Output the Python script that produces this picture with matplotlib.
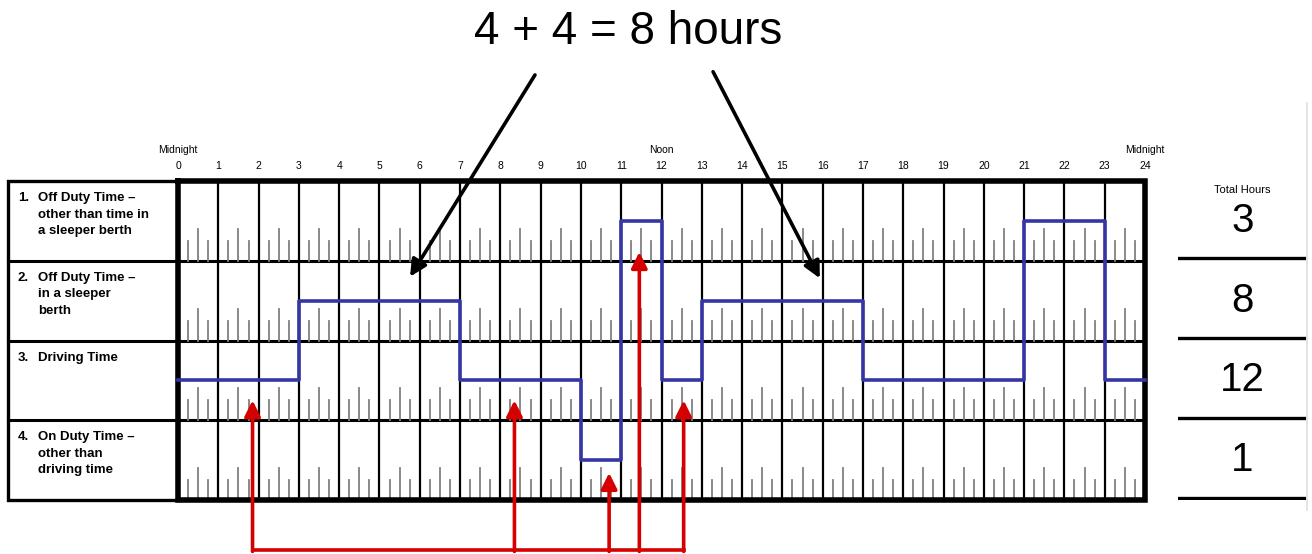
import matplotlib.pyplot as plt

plt.rcParams['font.family'] = ['Liberation Sans', 'DejaVu Sans']

# duty status rows (0 = top row)
row_labels = [
    ("1.", "Off Duty Time \u2013\nother than time in\na sleeper berth"),
    ("2.", "Off Duty Time \u2013\nin a sleeper\nberth"),
    ("3.", "Driving Time"),
    ("4.", "On Duty Time \u2013\nother than\ndriving time"),
]
total_hours = [3, 8, 12, 1]

# status changes: hour at which each segment starts, and its row
change_hours = [0, 3, 7, 10, 11, 12, 13, 17, 21, 23, 24]
change_rows = [2, 1, 2, 3, 0, 2, 1, 2, 0, 2, 2]

# red arrows: hour and row level of the arrow tip
red_hours = [1.85, 8.35, 10.7, 11.45, 12.55]
red_tips = [2.75, 2.75, 3.66, 0.89, 2.75]

W, H = 1312, 554
fig = plt.figure(figsize=(W / 100, H / 100), dpi=100)


def box(x0, y0, x1, y1):
    return [x0 / W, 1 - y1 / H, (x1 - x0) / W, (y1 - y0) / H]


# ---- grid ----
ax = fig.add_axes(box(178, 181, 1145, 500))
ax.set_xlim(0, 24)
ax.set_ylim(4, 0)
ax.axis('off')

for h in range(1, 24):
    ax.plot([h, h], [0, 4], color='black', lw=1.6)
for r in range(1, 4):
    ax.plot([0, 24], [r, r], color='black', lw=2.2)
for r in range(4):
    for h in range(24):
        for q, ln in [(0.25, 0.25), (0.5, 0.4), (0.75, 0.25)]:
            ax.plot([h + q, h + q], [r + 1, r + 1 - ln], color='#808080', lw=1.3)
ax.plot([0, 24, 24, 0, 0], [0, 0, 4, 4, 0], color='black', lw=4,
        solid_joinstyle='miter', clip_on=False)

# hour labels
for h in range(25):
    ax.text(h, -0.13, str(h), ha='center', va='bottom', fontsize=7.5)
for h, name in [(0, "Midnight"), (12, "Noon"), (24, "Midnight")]:
    ax.text(h, -0.33, name, ha='center', va='bottom', fontsize=7.5)

# duty status line
ys = [r + 0.5 for r in change_rows]
ax.step(change_hours, ys, where='post', color='#3535a5', lw=2.6,
        clip_on=False, zorder=5)

# red arrows
ax.plot([red_hours[0], red_hours[-1]], [4.63, 4.63], color='#d50000', lw=2.6,
        clip_on=False, zorder=6)
for x, tip in zip(red_hours, red_tips):
    ax.annotate('', xy=(x, tip), xytext=(x, 4.645),
                arrowprops=dict(arrowstyle='-|>', color='#d50000', lw=2.6,
                                mutation_scale=24, shrinkA=0, shrinkB=0),
                annotation_clip=False, zorder=6)

# black arrows from the title
ax.annotate('', xy=(5.76, 1.2), xytext=(8.86, -1.33),
            arrowprops=dict(arrowstyle='-|>', color='black', lw=2.6,
                            mutation_scale=25, shrinkA=0, shrinkB=0),
            annotation_clip=False, zorder=7)
ax.annotate('', xy=(15.93, 1.22), xytext=(13.28, -1.37),
            arrowprops=dict(arrowstyle='-|>', color='black', lw=2.6,
                            mutation_scale=25, shrinkA=0, shrinkB=0),
            annotation_clip=False, zorder=7)

fig.text(628 / W, 1 - 32 / H, "4 + 4 = 8 hours", ha='center', va='center',
         fontsize=33)

# ---- row label box ----
lab = fig.add_axes(box(8, 181, 178, 500))
lab.set_xlim(0, 170)
lab.set_ylim(4, 0)
lab.axis('off')
lab.plot([170, 0, 0, 170], [0, 0, 4, 4], color='black', lw=2.4,
         solid_joinstyle='miter', clip_on=False)
for r in range(1, 4):
    lab.plot([0, 170], [r, r], color='black', lw=2.2, clip_on=False)
for r, (num, txt) in enumerate(row_labels):
    top = r + 0.14
    lab.text(10, top, num, ha='left', va='top', fontsize=9.5, fontweight='bold')
    lab.text(30, top, txt, ha='left', va='top', fontsize=9.5, fontweight='bold',
             linespacing=1.5)

# ---- totals ----
tot = fig.add_axes(box(1178, 181, 1307, 500))
tot.set_xlim(0, 1)
tot.set_ylim(4, 0)
tot.axis('off')
tot.text(0.5, 0.11, "Total Hours", ha='center', va='center', fontsize=8)
for r, v in enumerate(total_hours):
    tot.text(0.5, r + 0.5, str(v), ha='center', va='center', fontsize=29)
    tot.plot([0, 0.98], [r + 0.97, r + 0.97], color='black', lw=2.4)

fig.add_artist(plt.Line2D([1307 / W, 1307 / W], [1 - 103 / H, 1 - 510 / H],
                          color='#e0e0e0', lw=1.2))

fig.savefig('out.png', dpi=100)
